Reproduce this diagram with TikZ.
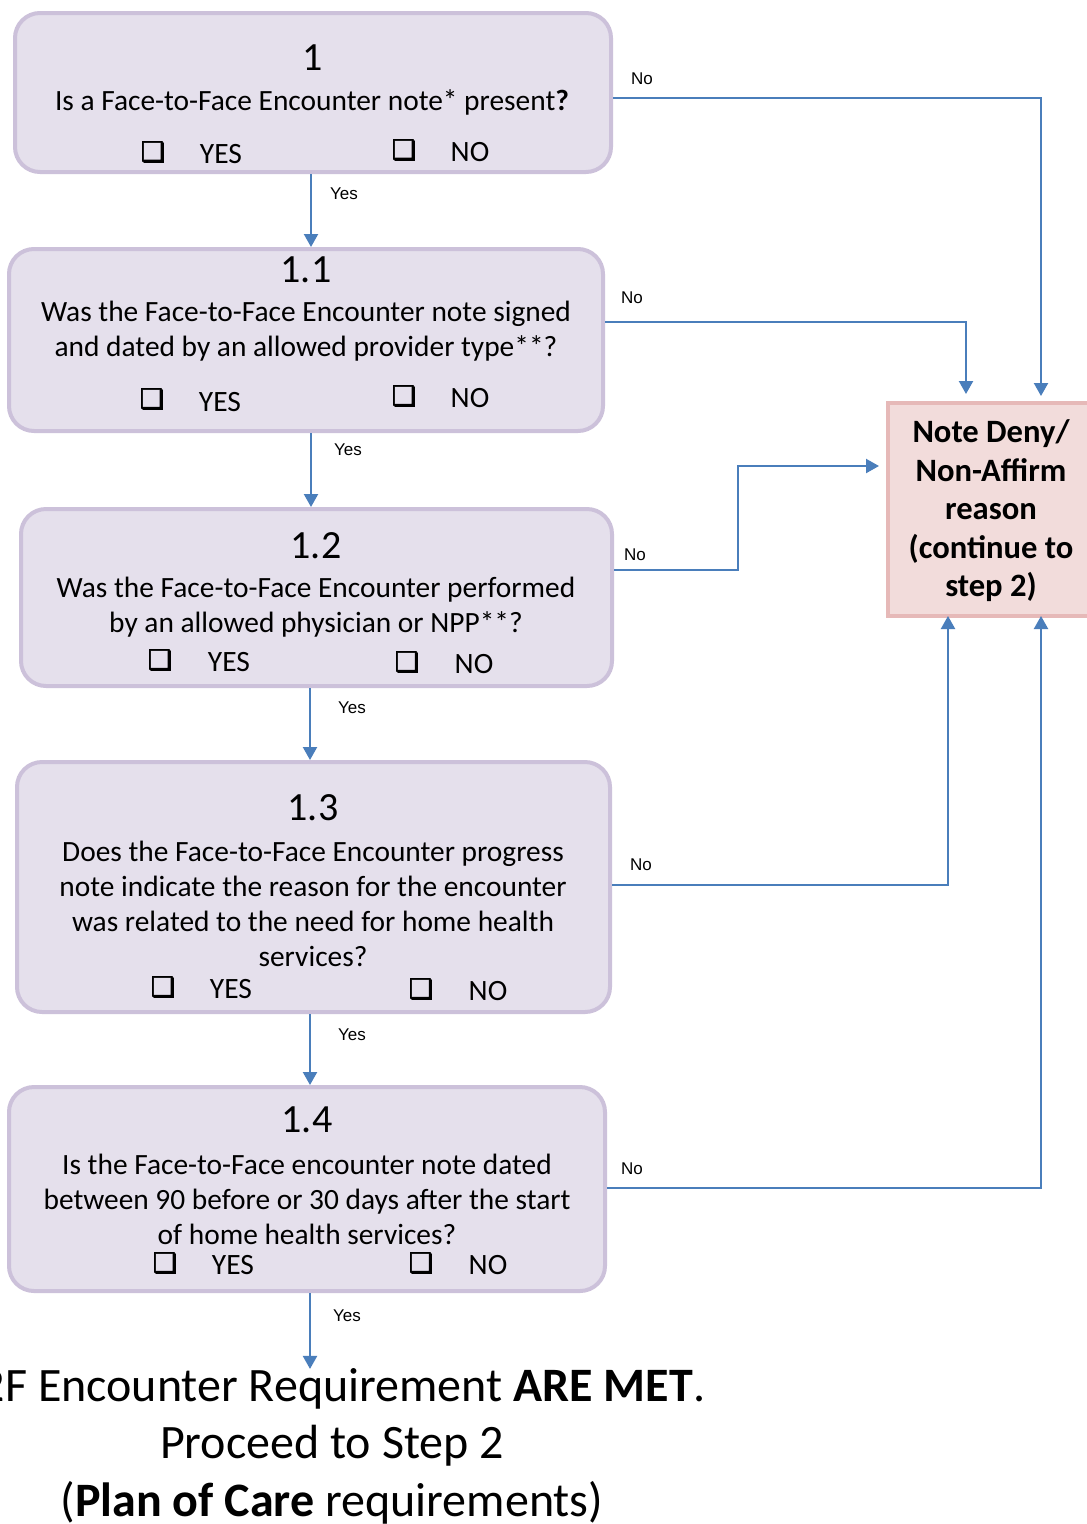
\documentclass[tikz,border=0pt]{standalone}
\usepackage{fontspec}
\setmainfont{Carlito}
\newfontface\chkfont{DejaVu Sans}[FakeBold=2.5]
\newfontfamily\lblf{Liberation Sans}
\usetikzlibrary{arrows.meta}
\definecolor{boxfill}{HTML}{E5E0EC}
\definecolor{boxline}{HTML}{CCC1DA}
\definecolor{notefill}{HTML}{F2DCDB}
\definecolor{noteline}{HTML}{E6B9B8}
\definecolor{conn}{HTML}{4A7EBB}
\begin{document}
\begin{tikzpicture}[x=1pt,y=-1pt,
  qbox/.style={draw=boxline, fill=boxfill, line width=4pt, rounded corners=25pt, inner sep=0pt},
  notebox/.style={draw=noteline, fill=notefill, line width=4pt, inner sep=0pt},
  num/.style={inner sep=0pt, font=\fontsize{40}{48}\selectfont},
  qtext/.style={inner sep=0pt, align=center, font=\fontsize{29.4}{35}\selectfont},
  opt/.style={inner sep=0pt, font=\fontsize{29.5}{35}\selectfont},
  chk/.style={inner sep=0pt, font=\chkfont\fontsize{27}{30}\selectfont},
  lbl/.style={inner sep=0pt, font=\lblf\fontsize{17}{20}\selectfont},
  link/.style={draw=conn, line width=2.2pt, -{Triangle[length=13pt,width=14pt]}}
]
\useasboundingbox (0,0) rectangle (1087,1524);
\clip (0,0) rectangle (1087,1524);
\fill[white] (0,0) rectangle (1087,1524);

% boxes
\node[qbox, minimum width=596pt, minimum height=159pt] (b1)  at (313,92.5) {};
\node[qbox, minimum width=594pt, minimum height=182pt] (b11) at (306,340) {};
\node[qbox, minimum width=591pt, minimum height=177pt] (b12) at (316.5,597.5) {};
\node[qbox, minimum width=593pt, minimum height=250pt] (b13) at (313.5,887) {};
\node[qbox, minimum width=596pt, minimum height=204pt] (b14) at (307,1189) {};
\node[notebox, minimum width=201pt, minimum height=213pt] (nd) at (988.5,509.5) {};
\node[inner sep=0pt, align=center, font=\fontsize{32.6}{38.5}\selectfont\bfseries] (ndt) at (991,511)
  {Note Deny/\\Non-Affirm\\reason\\(continue to\\step 2)};

% box 1
\node[num] (n1) at (313,58) {1};
\node[qtext] (q1) at (312,102) {Is a Face-to-Face Encounter note* present\textbf{?}};
\node[chk] (c1a) at (153,152) {❑};
\node[opt] (y1) at (221,154) {YES};
\node[chk] (c1b) at (404,150) {❑};
\node[opt] (o1) at (470,152) {NO};

% box 1.1
\node[num] (n11) at (306,270) {1.1};
\node[qtext] (q11) at (306,331) {Was the Face-to-Face Encounter note signed\\and dated by an allowed provider type**?};
\node[chk] (c11a) at (152,399) {❑};
\node[opt] (y11) at (220,402) {YES};
\node[chk] (c11b) at (404,396) {❑};
\node[opt] (o11) at (470,398) {NO};

% box 1.2
\node[num] (n12) at (316,546) {1.2};
\node[qtext] (q12) at (316,607) {Was the Face-to-Face Encounter performed\\by an allowed physician or NPP**?};
\node[chk] (c12a) at (160,660) {❑};
\node[opt] (y12) at (229,662) {YES};
\node[chk] (c12b) at (407,662) {❑};
\node[opt] (o12) at (474,664) {NO};

% box 1.3
\node[num] (n13) at (313,808) {1.3};
\node[qtext] (q13) at (313,904) {Does the Face-to-Face Encounter progress\\note indicate the reason for the encounter\\was related to the need for home health\\services?};
\node[chk] (c13a) at (163,987) {❑};
\node[opt] (y13) at (231,989) {YES};
\node[chk] (c13b) at (421,989) {❑};
\node[opt] (o13) at (488,991) {NO};

% box 1.4
\node[num] (n14) at (307,1120) {1.4};
\node[qtext] (q14) at (307,1199) {Is the Face-to-Face encounter note dated\\between 90 before or 30 days after the start\\of home health services?};
\node[chk] (c14a) at (165,1263) {❑};
\node[opt] (y14) at (233,1265) {YES};
\node[chk] (c14b) at (421,1263) {❑};
\node[opt] (o14) at (488,1265) {NO};

% result
\node[inner sep=0pt, align=center, font=\fontsize{48}{57.5}\selectfont] (res) at (332,1446)
  {F2F Encounter Requirement \textbf{ARE MET}.\\Proceed to Step 2\\(\textbf{Plan of Care} requirements)};

% Yes arrows
\draw[link] (b1.south -| 311,0) -- (b11.north -| 311,0);
\draw[link] (b11.south -| 311,0) -- (b12.north -| 311,0);
\draw[link] (b12.south -| 310,0) -- (b13.north -| 310,0);
\draw[link] (b13.south -| 310,0) -- (b14.north -| 310,0);
\draw[link, shorten >=-1pt] (b14.south -| 310,0) -- (res.north -| 310,0);
\node[lbl] (ly1) at (344,194) {Yes};
\node[lbl] (ly11) at (348,450) {Yes};
\node[lbl] (ly12) at (352,708) {Yes};
\node[lbl] (ly13) at (352,1035) {Yes};
\node[lbl] (ly14) at (347,1316) {Yes};

% No arrows
\draw[link, shorten >=5pt] (b1.east |- 0,98) -- (1041,98) -- (nd.north -| 1041,0);
\draw[link, shorten >=7pt] (b11.east |- 0,322) -- (966,322) -- (nd.north -| 966,0);
\draw[link, shorten >=7pt] (b12.east |- 0,570) -- (738,570) -- (738,466) -- (nd.west |- 0,466);
\draw[link, shorten >=-2pt] (b13.east |- 0,885) -- (948,885) -- (nd.south -| 948,0);
\draw[link, shorten >=-2pt] (b14.east |- 0,1188) -- (1041,1188) -- (nd.south -| 1041,0);
\node[lbl] (ln1) at (642,79) {No};
\node[lbl] (ln11) at (632,298) {No};
\node[lbl] (ln12) at (635,555) {No};
\node[lbl] (ln13) at (641,865) {No};
\node[lbl] (ln14) at (632,1169) {No};
\end{tikzpicture}
\end{document}
